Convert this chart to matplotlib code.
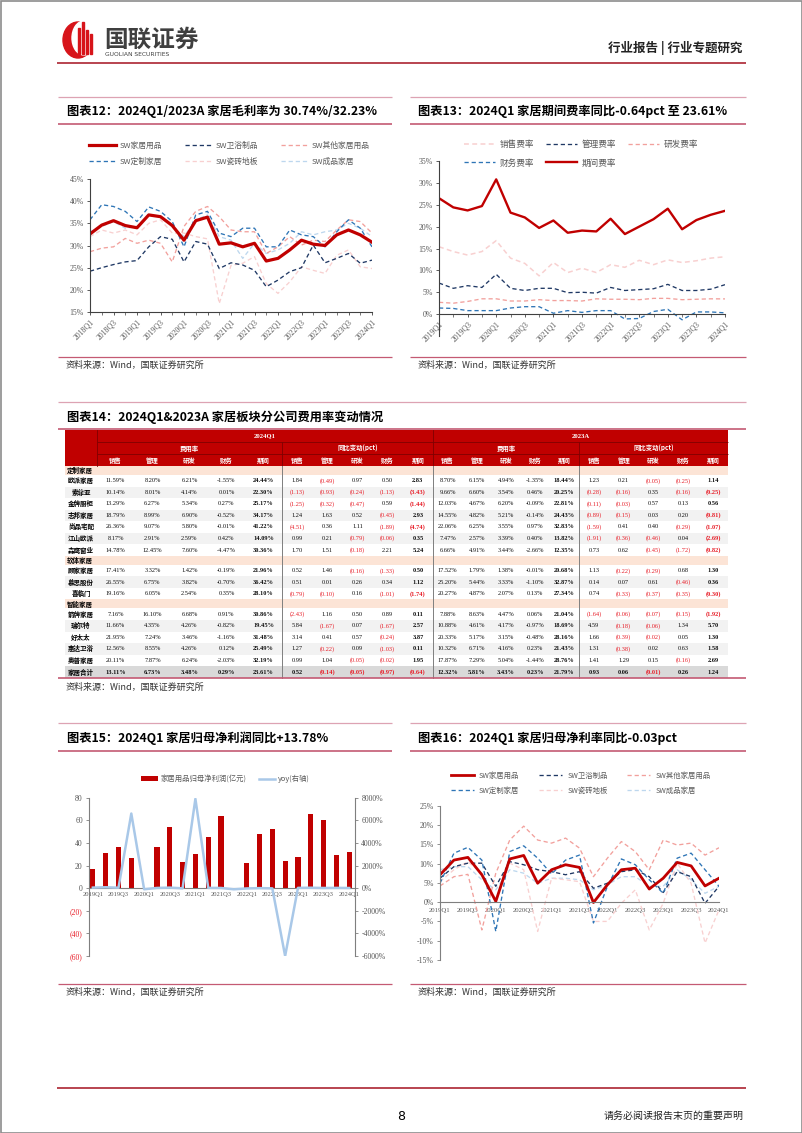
import matplotlib
matplotlib.use('Agg')
import matplotlib.pyplot as plt
from matplotlib.patches import Rectangle, Ellipse
import numpy as np

plt.rcParams['font.family'] = ['Noto Sans CJK SC', 'DejaVu Sans']
plt.rcParams['axes.unicode_minus'] = False
SERIF = ['Liberation Serif', 'Noto Sans CJK SC']

# ------------------------------------------------------------------ data
quarters12 = [f"{y}Q{q}" for y in range(2018, 2025) for q in range(1, 5)][:25]
quarters13 = quarters12[4:]

gm_home = [32.6, 34.6, 35.6, 34.5, 34.0, 36.9, 36.5, 34.5, 31.2, 35.6, 36.4, 30.3, 30.6,
           29.7, 30.5, 26.5, 27.1, 29.0, 31.2, 30.3, 30.0, 32.4, 33.5, 32.4, 30.74]
gm_bath = [24.2, 25.0, 25.7, 26.3, 26.6, 29.7, 32.0, 31.4, 26.3, 30.9, 30.3, 24.8, 26.1,
           25.6, 24.4, 20.7, 22.2, 24.1, 25.0, 30.1, 26.1, 27.1, 28.2, 26.0, 26.7]
gm_other = [28.6, 29.4, 29.7, 31.6, 30.5, 31.2, 30.5, 26.3, 34.3, 37.7, 38.8, 36.5, 33.5,
            33.1, 33.1, 28.2, 29.7, 32.0, 30.1, 31.2, 30.9, 33.5, 35.8, 35.4, 32.8]
gm_custom = [35.8, 39.2, 38.8, 37.7, 35.4, 38.7, 37.7, 35.4, 29.7, 36.9, 37.7, 32.8, 32.0,
             33.9, 33.9, 29.7, 29.7, 33.5, 32.4, 32.0, 29.7, 33.1, 35.8, 33.9, 29.7]
gm_tile = [32.0, 33.5, 32.8, 33.5, 32.4, 35.0, 35.8, 32.8, 32.8, 32.0, 31.5, 16.9, 25.5,
           26.0, 27.5, 21.4, 19.2, 21.8, 25.2, 24.4, 23.7, 27.8, 29.0, 25.2, 24.8]
gm_furn = [33.1, 34.3, 35.4, 33.9, 34.3, 36.9, 36.5, 34.3, 32.0, 35.8, 36.9, 32.0, 31.2,
           27.1, 30.5, 28.2, 29.0, 30.5, 33.1, 32.4, 33.1, 33.5, 35.0, 33.9, 32.0]

exp_period = [26.5, 24.4, 23.7, 24.7, 30.8, 23.2, 22.1, 19.7, 21.4, 18.6, 19.1,
              18.9, 21.8, 18.3, 20.0, 21.7, 24.1, 19.4, 21.5, 22.7, 23.61]
exp_sales = [15.4, 14.3, 13.5, 14.3, 16.8, 12.8, 11.6, 8.75, 11.8, 9.5, 10.5,
             9.5, 11.3, 10.7, 12.3, 11.3, 12.4, 11.8, 12.2, 12.8, 13.11]
exp_admin = [7.1, 5.9, 6.5, 6.1, 9.1, 5.9, 5.4, 5.9, 5.9, 4.9, 5.0,
             4.8, 6.1, 5.4, 5.6, 5.8, 6.8, 5.4, 5.4, 5.7, 6.73]
exp_rd = [2.7, 2.5, 2.9, 3.5, 3.5, 3.0, 3.0, 3.3, 3.1, 3.1, 3.0,
          3.5, 3.4, 3.4, 3.3, 3.6, 3.6, 3.3, 3.4, 3.5, 3.48]
exp_fin = [1.4, 1.3, 0.8, 0.8, 0.8, 1.4, 1.7, 1.7, 0.2, 0.8, 0.4,
           0.8, 0.8, -1.1, -1.0, 0.6, 1.1, -1.3, 0.5, 0.5, 0.29]

np_profit = [16.8, 30.9, 36.8, 26.8, 0.38, 36.8, 54.4, 22.9, 30.0, 45.6, 63.8,
             -0.4, 22.4, 47.6, 52.1, 23.8, 27.9, 65.3, 60.3, 29.4, 31.8]
np_yoy = [50, 80, 40, 6600, -98, 19, 48, -15, 7900, 24, 17,
          -102, -25, 4, -18, -6000, 25, 37, 16, 24, 13.78]

nm_home = [7.1, 10.9, 11.6, 7.1, 0.2, 11.2, 12.1, 4.9, 8.4, 9.7, 9.0,
           -0.1, 4.5, 8.4, 8.8, 3.4, 6.2, 10.3, 9.4, 4.2, 6.2]
nm_bath = [6.2, 9.2, 10.1, 10.1, 4.1, 10.5, 9.7, 8.4, 7.9, 7.1, 7.9,
           3.6, 4.9, 7.9, 8.4, 6.6, 2.5, 7.9, 6.6, -0.3, 4.1]
nm_other = [4.2, 6.6, 7.2, -7.2, 7.5, 16.1, 19.7, 16.1, 15.3, 16.6, 14.0,
            6.6, 11.4, 15.7, 13.1, 8.4, 16.1, 14.8, 15.3, 12.2, 14.1]
nm_custom = [4.9, 12.7, 14.2, 10.9, -7.6, 13.1, 14.6, 11.4, 7.3, 10.9, 12.2,
             -5.4, 4.1, 11.2, 9.7, 5.8, 2.3, 11.4, 12.7, 8.4, 4.1]
nm_tile = [5.3, 8.4, 10.5, 7.5, 0.6, 10.1, 8.4, -7.6, 6.2, 5.8, 5.3,
           -5.0, -5.0, -0.3, 3.2, -7.2, -0.3, 10.1, 4.9, -10.6, -2.0]
nm_furn = [8.4, 9.2, 9.2, 5.8, 3.2, 8.4, 7.5, 4.9, 6.2, 6.2, 5.8,
           3.2, 4.5, 6.6, 6.6, 4.1, 4.1, 8.4, 5.8, 2.3, 4.1]

# table 14
tbl_groups = ['2024Q1', '2023A']
tbl_sub = ['费用率', '同比变动(pct)']
tbl_cols = ['销售', '管理', '研发', '财务', '期间']
tbl_sections = ['定制家居', '软体家居', '智能家居']
tbl_section_members = [7, 3, 5]
tbl_companies = ['欧派家居', '索菲亚', '金牌厨柜', '志邦家居', '尚品宅配', '江山欧派', '森鹰窗业',
                 '顾家家居', '慕思股份', '喜临门',
                 '箭牌家居', '瑞尔特', '好太太', '惠达卫浴', '奥普家居', '家居合计']
rate_24 = [[11.59, 8.20, 6.21, -1.55, 24.44], [10.14, 8.01, 4.14, 0.01, 22.30],
           [13.29, 6.27, 5.34, 0.27, 25.17], [18.79, 8.99, 6.90, -0.52, 34.17],
           [26.36, 9.07, 5.80, -0.01, 41.22], [8.17, 2.91, 2.59, 0.42, 14.09],
           [14.78, 12.45, 7.60, -4.47, 30.36], [17.41, 3.32, 1.42, -0.19, 21.96],
           [26.55, 6.75, 3.82, -0.70, 36.42], [19.16, 6.05, 2.54, 0.35, 28.10],
           [7.16, 16.10, 6.68, 0.91, 30.86], [11.66, 4.35, 4.26, -0.82, 19.45],
           [21.95, 7.24, 3.46, -1.16, 31.48], [12.56, 8.55, 4.26, 0.12, 25.49],
           [20.11, 7.87, 6.24, -2.03, 32.19], [13.11, 6.73, 3.48, 0.29, 23.61]]
yoy_24 = [[1.84, -0.49, 0.97, 0.50, 2.83], [-1.13, -0.93, -0.24, -1.13, -3.43],
          [-1.25, -0.32, -0.47, 0.59, -1.44], [1.24, 1.63, 0.52, -0.45, 2.93],
          [-4.51, 0.36, 1.11, -1.89, -4.74], [0.99, 0.21, -0.79, -0.06, 0.35],
          [1.70, 1.51, -0.18, 2.21, 5.24], [0.52, 1.46, -0.16, -1.33, 0.50],
          [0.51, 0.01, 0.26, 0.34, 1.12], [-0.79, -0.10, 0.16, -1.01, -1.74],
          [-2.43, 1.16, 0.50, 0.89, 0.11], [5.84, -1.67, 0.07, -1.67, 2.57],
          [3.14, 0.41, 0.57, -0.24, 3.87], [1.27, -0.22, 0.09, -1.03, 0.11],
          [0.99, 1.04, -0.05, -0.02, 1.95], [0.52, -0.14, -0.05, -0.97, -0.64]]
rate_23 = [[8.70, 6.15, 4.94, -1.35, 18.44], [9.66, 6.60, 3.54, 0.46, 20.25],
           [12.03, 4.67, 6.20, -0.09, 22.81], [14.55, 4.82, 5.21, -0.14, 24.43],
           [22.06, 6.25, 3.55, 0.97, 32.83], [7.47, 2.57, 3.39, 0.40, 13.82],
           [6.66, 4.91, 3.44, -2.66, 12.35], [17.52, 1.79, 1.38, -0.01, 20.68],
           [25.20, 5.44, 3.33, -1.10, 32.87], [20.27, 4.87, 2.07, 0.13, 27.34],
           [7.88, 8.63, 4.47, 0.06, 21.04], [10.88, 4.61, 4.17, -0.97, 18.69],
           [20.33, 5.17, 3.15, -0.48, 28.16], [10.32, 6.71, 4.16, 0.23, 21.43],
           [17.87, 7.29, 5.04, -1.44, 28.76], [12.32, 5.81, 3.43, 0.23, 21.79]]
yoy_23 = [[1.23, 0.21, -0.05, -0.25, 1.14], [-0.28, -0.16, 0.35, -0.16, -0.25],
          [-0.11, -0.03, 0.57, 0.13, 0.56], [-0.89, -0.15, 0.03, 0.20, -0.81],
          [-1.59, 0.41, 0.40, -0.29, -1.07], [-1.91, -0.36, -0.46, 0.04, -2.69],
          [0.73, 0.62, -0.45, -1.72, -0.82], [1.13, -0.22, -0.29, 0.68, 1.30],
          [0.14, 0.07, 0.61, -0.46, 0.36], [0.74, -0.33, -0.37, -0.35, -0.30],
          [-1.64, -0.06, -0.07, -0.15, -1.92], [4.59, -0.18, -0.06, 1.34, 5.70],
          [1.66, -0.39, -0.02, 0.05, 1.30], [1.31, -0.38, 0.02, 0.63, 1.58],
          [1.41, 1.29, 0.15, -0.16, 2.69], [0.93, 0.06, -0.01, 0.26, 1.24]]

# ------------------------------------------------------------------ colours
RED = '#C00000'
NAVY = '#1F3864'
SALMON = '#F2A09C'
BLUE = '#2E75B6'
LPINK = '#F8D0D0'
LBLUE = '#BDD7EE'
GRAY = '#595959'
LINE_TOP = '#DDA3B3'
LINE_BOT = '#C45A73'
NEG = '#E8202A'

W, H = 802, 1133
fig = plt.figure(figsize=(W / 100, H / 100), dpi=100)


def px_axes(x0, y0, x1, y1):
    a = fig.add_axes([x0 / W, 1 - y1 / H, (x1 - x0) / W, (y1 - y0) / H])
    a.set_facecolor('none')
    return a


def fx(x):
    return x / W


def fy(y):
    return 1 - y / H


page = px_axes(0, 0, W, H)
page.set_xlim(0, W)
page.set_ylim(H, 0)
page.axis('off')


def hline(y, x0, x1, color, lw=0.9):
    page.plot([x0, x1], [y, y], color=color, lw=lw, solid_capstyle='butt')


# page frame
page.add_patch(Rectangle((0.5, 0.5), W - 1, H - 1, fill=False, ec='#8C8C8C', lw=1.2))

# logo
page.add_patch(Ellipse((78, 40), 30, 36, color='#D7141A'))
page.add_patch(Ellipse((84, 38), 24, 34, color='white'))
for bx, bt in [(78, 28), (82, 22), (86, 30), (90, 34)]:
    page.add_patch(Rectangle((bx, bt), 2.2, 54 - bt, color='#D7141A'))
page.text(104, 40, '国联证券', fontsize=17, fontweight='bold', color='#3F3F3F', va='center', ha='left')
page.text(105, 54, 'GUOLIAN SECURITIES', fontsize=4.3, color='#3F3F3F', va='center', ha='left',
          family='DejaVu Sans')
page.text(742, 48, '行业报告 | 行业专题研究', fontsize=9, fontweight='bold', color='#222222',
          va='center', ha='right')
hline(63, 57, 746, '#B8434F', 1.4)

# section titles and rules
hline(97, 58, 392, LINE_TOP)
hline(97, 410, 746, LINE_TOP)
hline(124, 58, 392, LINE_BOT, 1.2)
hline(124, 410, 746, LINE_BOT, 1.2)
page.text(67, 111, '图表12：2024Q1/2023A 家居毛利率为 30.74%/32.23%', fontsize=8.8,
          fontweight='bold', va='center')
page.text(418, 111, '图表13：2024Q1 家居期间费率同比-0.64pct 至 23.61%', fontsize=8.8,
          fontweight='bold', va='center')
hline(357, 58, 392, LINE_BOT)
hline(357, 410, 746, LINE_BOT)
page.text(66, 365, '资料来源：Wind，国联证券研究所', fontsize=6.5, color='#333333', va='center')
page.text(418, 365, '资料来源：Wind，国联证券研究所', fontsize=6.5, color='#333333', va='center')

hline(402, 58, 746, LINE_TOP)
page.text(67, 417, '图表14：2024Q1&2023A 家居板块分公司费用率变动情况', fontsize=8.8,
          fontweight='bold', va='center')
hline(429, 58, 746, LINE_BOT, 1.2)
page.text(66, 687, '资料来源：Wind，国联证券研究所', fontsize=6.5, color='#333333', va='center')

hline(723, 58, 392, LINE_TOP)
hline(723, 410, 746, LINE_TOP)
hline(751, 58, 392, LINE_BOT, 1.2)
hline(751, 410, 746, LINE_BOT, 1.2)
page.text(67, 738, '图表15：2024Q1 家居归母净利润同比+13.78%', fontsize=8.8, fontweight='bold', va='center')
page.text(418, 738, '图表16：2024Q1 家居归母净利率同比-0.03pct', fontsize=8.8, fontweight='bold', va='center')
hline(984, 58, 392, LINE_BOT)
hline(984, 410, 746, LINE_BOT)
page.text(66, 992, '资料来源：Wind，国联证券研究所', fontsize=6.5, color='#333333', va='center')
page.text(418, 992, '资料来源：Wind，国联证券研究所', fontsize=6.5, color='#333333', va='center')

# footer
hline(1088, 57, 746, '#B8434F', 1.4)
page.text(401, 1116, '8', fontsize=9, va='center', ha='center', family='DejaVu Sans')
page.text(744, 1116, '请务必阅读报告末页的重要声明', fontsize=7.2, va='center', ha='right', color='#222222')

# ------------------------------------------------------------------ helpers
DASH = (3.2, 2.2)


def style_axes(ax, color='#404040', xsize=5.6):
    for s in ['top', 'right']:
        ax.spines[s].set_visible(False)
    for s in ['left', 'bottom']:
        ax.spines[s].set_color(color)
        ax.spines[s].set_linewidth(0.8)
    ax.tick_params(axis='both', direction='out', length=2.5, width=0.6, color=color,
                   labelsize=5.6, labelcolor=GRAY, pad=2)
    ax.tick_params(axis='x', labelsize=xsize)
    for lab in ax.get_yticklabels() + ax.get_xticklabels():
        lab.set_family(SERIF)


# ------------------------------------------------------------------ chart 12
ax = px_axes(90, 179, 372, 312)
x12 = np.arange(len(quarters12))
h = {}
h['SW成品家居'] = ax.plot(x12, gm_furn, color=LBLUE, lw=0.95, dashes=DASH)[0]
h['SW瓷砖地板'] = ax.plot(x12, gm_tile, color=LPINK, lw=0.95, dashes=DASH)[0]
h['SW其他家居用品'] = ax.plot(x12, gm_other, color=SALMON, lw=0.95, dashes=DASH)[0]
h['SW卫浴制品'] = ax.plot(x12, gm_bath, color=NAVY, lw=0.95, dashes=DASH)[0]
h['SW定制家居'] = ax.plot(x12, gm_custom, color=BLUE, lw=0.95, dashes=DASH)[0]
h['SW家居用品'] = ax.plot(x12, gm_home, color=RED, lw=2.3)[0]
ax.set_xlim(0, len(quarters12) - 1)
ax.set_ylim(15, 45)
ax.set_yticks(np.arange(15, 46, 5))
ax.set_yticklabels([f'{v}%' for v in range(15, 46, 5)])
ax.set_xticks(x12[::2])
ax.set_xticklabels(quarters12[::2], rotation=45, ha='right', rotation_mode='anchor')
ax.set_xticks(x12, minor=True)
style_axes(ax)
ax.tick_params(axis='x', which='minor', length=2, width=0.5, color='#404040')
order12 = ['SW家居用品', 'SW定制家居', 'SW卫浴制品', 'SW瓷砖地板', 'SW其他家居用品', 'SW成品家居']
fig.legend([h[k] for k in order12], order12, loc='upper left', bbox_to_anchor=(fx(89), fy(142)),
           ncol=3, frameon=False, fontsize=5.6, handlelength=3.5, handletextpad=0.45,
           columnspacing=2.9, labelspacing=0.95, borderpad=0, borderaxespad=0,
           labelcolor=GRAY)

# ------------------------------------------------------------------ chart 13
ax = px_axes(439, 161, 725, 336)
ax.spines['bottom'].set_position(('data', 0))
x13 = np.arange(len(quarters13))
h = {}
h['销售费率'] = ax.plot(x13, exp_sales, color=LPINK, lw=1.1, dashes=DASH)[0]
h['研发费率'] = ax.plot(x13, exp_rd, color=SALMON, lw=0.95, dashes=DASH)[0]
h['管理费率'] = ax.plot(x13, exp_admin, color=NAVY, lw=0.95, dashes=DASH)[0]
h['财务费率'] = ax.plot(x13, exp_fin, color=BLUE, lw=0.95, dashes=DASH)[0]
h['期间费率'] = ax.plot(x13, exp_period, color=RED, lw=1.7)[0]
ax.set_xlim(0, len(quarters13) - 1)
ax.set_ylim(-5, 35)
ax.set_yticks(np.arange(0, 36, 5))
ax.set_yticklabels([f'{v}%' for v in range(0, 36, 5)])
ax.set_xticks(x13[::2])
ax.set_xticklabels(quarters13[::2], rotation=45, ha='right', rotation_mode='anchor')
ax.set_xticks(x13, minor=True)
style_axes(ax)
ax.tick_params(axis='x', which='minor', length=2, width=0.5, color='#404040')
order13 = ['销售费率', '财务费率', '管理费率', '期间费率', '研发费率']
fig.legend([h[k] for k in order13], order13, loc='upper left', bbox_to_anchor=(fx(464), fy(140)),
           ncol=3, frameon=False, fontsize=6.2, handlelength=3.6, handletextpad=0.6,
           columnspacing=1.3, labelspacing=1.1, borderpad=0, borderaxespad=0, labelcolor=GRAY)

# ------------------------------------------------------------------ table 14
col_w = [37] * 5 + [30.2] * 5 + [29.2] * 5 + [29.8] * 5
col_x = [97]
for w in col_w:
    col_x.append(col_x[-1] + w)
TX0, TX1 = 65, col_x[-1]
HDR_LINE = '#7F0000'
page.add_patch(Rectangle((TX0, 430), TX1 - TX0, 36, color=RED, lw=0))
for yy in [442, 454]:
    hline(yy, 97, TX1, HDR_LINE, 0.6)
page.plot([col_x[10], col_x[10]], [430, 466], color=HDR_LINE, lw=0.6)
for xv in [col_x[5], col_x[15]]:
    page.plot([xv, xv], [442, 466], color=HDR_LINE, lw=0.6)
page.plot([97, 97], [430, 466], color=HDR_LINE, lw=0.6)
for gi, g in enumerate(tbl_groups):
    xa, xb = col_x[gi * 10], col_x[gi * 10 + 10]
    page.text((xa + xb) / 2, 436, g, color='white', fontsize=4.8, fontweight='bold',
              ha='center', va='center', family=SERIF)
    for si, s in enumerate(tbl_sub):
        xa, xb = col_x[gi * 10 + si * 5], col_x[gi * 10 + si * 5 + 5]
        page.text((xa + xb) / 2, 448, s, color='white', fontsize=4.6, fontweight='bold',
                  ha='center', va='center')
        for ci, c in enumerate(tbl_cols):
            k = gi * 10 + si * 5 + ci
            page.text((col_x[k] + col_x[k + 1]) / 2, 460, c, color='white', fontsize=4.6,
                      fontweight='bold', ha='center', va='center')


def fmt_rate(v):
    return f'{v:.2f}%'


def fmt_yoy(v):
    return f'({abs(v):.2f})' if v < 0 else f'{v:.2f}'


def table_row(idx, y, hgt, bg, all_bold=False):
    page.add_patch(Rectangle((TX0, y), TX1 - TX0, hgt, color=bg, lw=0))
    page.text(81, y + hgt / 2, tbl_companies[idx], fontsize=4.7, fontweight='bold',
              va='center', ha='center')
    blocks = [(rate_24, 'r'), (yoy_24, 'y'), (rate_23, 'r'), (yoy_23, 'y')]
    for bi, (arr, kind) in enumerate(blocks):
        for c in range(5):
            v = arr[idx][c]
            k = bi * 5 + c
            txt = fmt_rate(v) if kind == 'r' else fmt_yoy(v)
            col = NEG if (kind == 'y' and v < 0) else '#111111'
            page.text((col_x[k] + col_x[k + 1]) / 2, y + hgt / 2, txt, fontsize=4.6,
                      fontweight='bold' if (c == 4 or all_bold) else 'normal', color=col,
                      va='center', ha='center', family=SERIF)


SEC_H, ROW_H = 9.0, 11.55
y = 466
idx = 0
for s_i, sec in enumerate(tbl_sections):
    page.add_patch(Rectangle((TX0, y), TX1 - TX0, SEC_H, color='#FCE4D6', lw=0))
    page.text(67, y + SEC_H / 2, sec, fontsize=4.7, fontweight='bold', va='center', ha='left')
    y += SEC_H
    for r in range(tbl_section_members[s_i]):
        table_row(idx, y, ROW_H, 'white' if r % 2 == 0 else '#F2F2F2')
        y += ROW_H
        idx += 1
table_row(idx, y, ROW_H, '#D9D9D9', all_bold=True)
y_end = y + ROW_H
for xv in [col_x[5], col_x[10], col_x[15]]:
    page.plot([xv, xv], [466, y_end], color='#7F7F7F', lw=0.7)
hline(y_end, 58, 746, LINE_BOT, 1.2)

# ------------------------------------------------------------------ chart 15
ax = px_axes(89, 797.7, 355, 956)
ax.spines['bottom'].set_position(('data', 0))
x15 = np.arange(len(quarters13))
bars = ax.bar(x15, np_profit, width=0.4, color=RED, zorder=2)
ax.set_xlim(-0.3, 20.45)
ax.set_ylim(-60, 80)
ax.set_yticks(np.arange(-60, 81, 20))
ax.set_yticklabels([f'({abs(v)})' if v < 0 else f'{v}' for v in range(-60, 81, 20)])
ax.set_xticks(x15[::2])
ax.set_xticklabels(quarters13[::2])
style_axes(ax, '#7F7F7F', xsize=4.7)
for lab, v in zip(ax.get_yticklabels(), range(-60, 81, 20)):
    if v < 0:
        lab.set_color(NEG)
ax.tick_params(axis='x', length=0, pad=3)
ax2 = ax.twinx()
ax2.set_facecolor('none')
ln, = ax2.plot(x15, np_yoy, color='#A9C8E8', lw=1.8, zorder=3)
ax2.set_ylim(-6000, 8000)
ax2.set_yticks(np.arange(-6000, 8001, 2000))
ax2.set_yticklabels([f'{v}%' for v in range(-6000, 8001, 2000)])
for s in ['top', 'left', 'bottom']:
    ax2.spines[s].set_visible(False)
ax2.spines['right'].set_color('#7F7F7F')
ax2.spines['right'].set_linewidth(0.8)
ax2.tick_params(axis='y', direction='out', length=2.5, width=0.6, color='#7F7F7F',
                labelsize=5.6, labelcolor=GRAY, pad=2)
for lab in ax2.get_yticklabels():
    lab.set_family(SERIF)
fig.legend([bars, ln], ['家居用品归母净利润(亿元)', 'yoy(右轴)'], loc='upper left',
           bbox_to_anchor=(fx(141), fy(775)), ncol=2, frameon=False, fontsize=5.3,
           handlelength=2.3, handleheight=0.6, handletextpad=0.4, columnspacing=1.6,
           borderpad=0, borderaxespad=0, labelcolor=GRAY)

# ------------------------------------------------------------------ chart 16
ax = px_axes(440, 805.7, 719, 960)
ax.spines['bottom'].set_position(('data', 0))
x16 = np.arange(len(quarters13))
h = {}
h['SW成品家居'] = ax.plot(x16, nm_furn, color=LBLUE, lw=0.95, dashes=DASH)[0]
h['SW瓷砖地板'] = ax.plot(x16, nm_tile, color=LPINK, lw=0.95, dashes=DASH)[0]
h['SW其他家居用品'] = ax.plot(x16, nm_other, color=SALMON, lw=0.95, dashes=DASH)[0]
h['SW卫浴制品'] = ax.plot(x16, nm_bath, color=NAVY, lw=0.95, dashes=DASH)[0]
h['SW定制家居'] = ax.plot(x16, nm_custom, color=BLUE, lw=0.95, dashes=DASH)[0]
h['SW家居用品'] = ax.plot(x16, nm_home, color=RED, lw=2.0)[0]
ax.set_xlim(0, len(quarters13) - 1)
ax.set_ylim(-15, 25)
ax.set_yticks(np.arange(-15, 26, 5))
ax.set_yticklabels([f'{v}%' for v in range(-15, 26, 5)])
ax.set_xticks(x16[::2])
ax.set_xticklabels(quarters13[::2])
style_axes(ax, '#7F7F7F', xsize=4.9)
ax.tick_params(axis='x', length=0, pad=4.5)
fig.legend([h[k] for k in order12], order12, loc='upper left', bbox_to_anchor=(fx(451), fy(772)),
           ncol=3, frameon=False, fontsize=5.3, handlelength=3.1, handletextpad=0.7,
           columnspacing=2.7, labelspacing=0.9, borderpad=0, borderaxespad=0, labelcolor=GRAY)

fig.savefig('out.png', dpi=100)
